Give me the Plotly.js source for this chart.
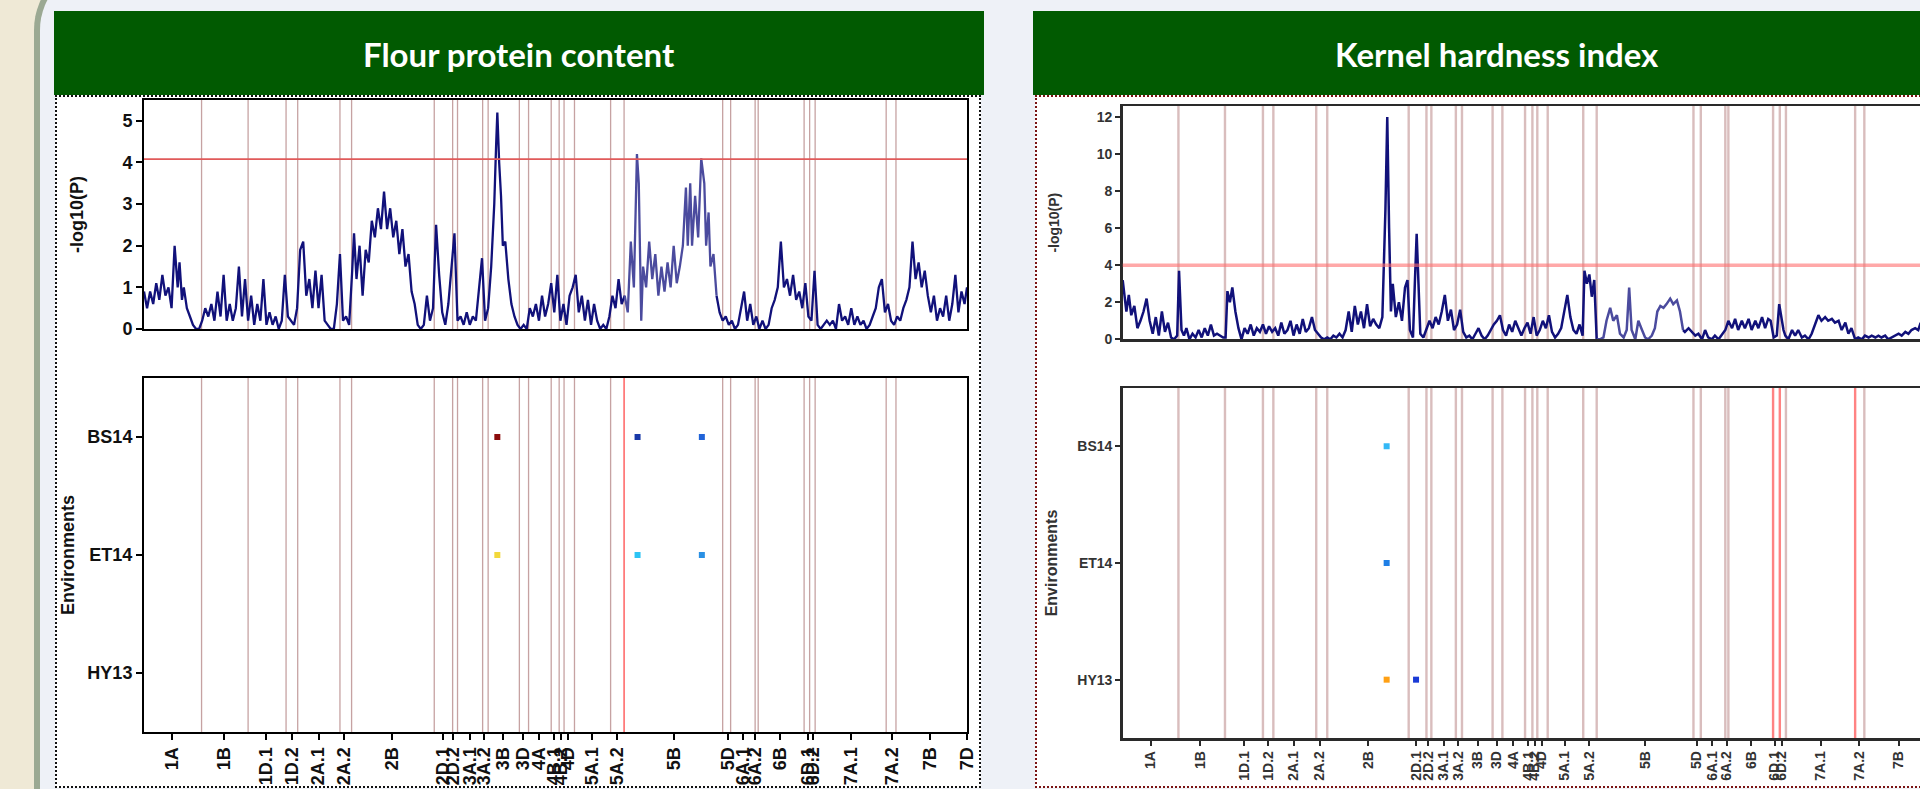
<!DOCTYPE html>
<html>
<head>
<meta charset="utf-8">
<script src="https://cdn.plot.ly/plotly-3.0.1.min.js"></script>
<style>
html,body{margin:0;padding:0;width:1920px;height:789px;overflow:hidden;background:#eef1f7;}
.abs{position:absolute;}
#beige{left:0;top:0;width:42px;height:789px;background:#efe9d6;}
#frame{left:34px;top:-40px;width:2000px;height:900px;border-left:6px solid #9ba993;border-top:6px solid #9ba993;border-top-left-radius:70px;background:#eef1f7;}
.head{top:11px;width:930px;height:84px;background:#015a01;}
#lh{left:54px;}
#rh{left:1033px;}
.body{top:95px;height:689px;width:922px;background:#ffffff;}
#lb{left:55px;border:2px dotted #111111;}
#rb{left:1035px;border:2px dotted #7a1414;}
#chart{left:0;top:0;width:2000px;height:789px;z-index:5;}
</style>
</head>
<body>
<div id="beige" class="abs"></div>
<div id="frame" class="abs"></div>
<div id="lh" class="abs head"></div>
<div id="rh" class="abs head"></div>
<div id="lb" class="abs body"></div>
<div id="rb" class="abs body"></div>
<div id="chart" class="abs"></div>
<script>
// ---------------- DATA ----------------
const panelTitles = ["Flour protein content", "Kernel hardness index"];
const environments = ["BS14", "ET14", "HY13"];

// Flour protein content: marker position index (cumulative genome order) and -log10(P)
const fpcPos = [0,5,10,15,20,25,30,35,40,45,50,55,58,62,65,70,75,80,85,90,95,100,105,110,115,120,125,130,135,140,145,150,155,160,165,170,175,180,185,190,195,200,205,210,215,220,225,230,235,240,245,250,255,260,265,270,275,280,285,290,295,300,305,310,315,320,325,330,335,340,343,347,352,357,362,367,372,377,382,387,392,397,402,407,412,417,422,427,432,437,442,447,452,457,462,467,472,477,482,487,492,497,502,507,512,517,522,527,532,537,542,547,552,557,562,567,572,575,577,580,583,586,590,595,600,605,610,615,620,625,630,635,640,645,650,655,660,665,670,675,680,685,690,695,700,705,710,715,720,725,730,735,740,745,750,755,760,765,770,775,780,785,790,795,800,805,808,812,815,820,825,830,835,840,845,850,855,860,865,870,875,880,885,888,892,895,900,905,910,915,918,922,925,930,935,940,945,950,955,960,965,970,975,980,985,990,995,1000,1005,1010,1015,1020,1025,1030,1035,1040,1045,1050,1055,1060,1065,1070,1075,1080,1085,1090,1095,1100,1105,1110,1115,1120,1125,1130,1135,1140,1145,1150,1155,1160,1165,1170,1175,1180,1185,1190,1195,1200,1205,1210,1215,1220,1225,1230,1235,1240,1245,1250,1255,1260,1265,1270,1275,1280,1285,1290,1295,1300,1305,1310,1315,1320,1325,1330,1335,1340,1344];
const fpcLogP = [0.9,0.5,0.9,0.6,1.1,0.7,1.3,0.8,1.0,0.5,2.0,1.0,1.6,0.7,1.0,0.5,0.3,0.1,0.0,0.0,0.2,0.5,0.3,0.6,0.2,0.9,0.3,1.3,0.2,0.6,0.2,0.5,1.5,0.3,1.2,0.2,0.8,0.1,0.6,0.2,1.2,0.1,0.4,0.1,0.3,0.0,0.2,1.3,0.3,0.2,0.1,0.5,1.9,2.1,0.8,1.2,0.5,1.4,0.5,1.3,0.2,0.1,0.0,0.0,0.6,1.8,0.2,0.3,0.1,1.4,2.3,1.2,2.0,0.8,1.9,1.6,2.6,2.2,2.9,2.4,3.3,2.4,2.9,2.2,2.6,1.8,2.4,1.5,1.8,0.9,0.6,0.1,0.0,0.1,0.8,0.2,0.5,2.5,1.3,0.4,0.1,0.6,1.5,2.3,0.2,0.3,0.1,0.4,0.1,0.3,0.2,1.0,1.7,0.2,0.5,1.5,3.0,4.4,5.2,4.0,3.2,2.0,2.1,1.2,0.6,0.3,0.1,0.0,0.1,0.0,0.5,0.3,0.6,0.2,0.8,0.3,0.6,1.1,0.4,1.3,0.2,0.6,0.1,0.8,1.0,1.3,0.4,0.8,0.2,0.7,0.1,0.6,0.2,0.0,0.1,0.0,0.3,0.8,0.5,1.2,0.6,0.8,0.4,2.1,1.0,4.2,3.5,0.2,1.5,1.0,2.1,1.2,1.8,0.8,1.5,0.9,1.6,1.0,2.0,1.1,1.5,2.0,3.4,2.0,3.5,2.0,3.2,2.2,4.1,3.5,2.0,2.8,1.5,1.8,0.8,0.4,0.2,0.3,0.1,0.2,0.0,0.1,0.5,0.9,0.2,0.6,0.1,0.3,0.0,0.2,0.0,0.1,0.5,0.7,1.0,2.1,1.0,1.2,0.8,1.3,0.7,0.9,0.5,1.1,0.3,0.2,1.4,0.1,0.0,0.1,0.2,0.1,0.2,0.0,0.6,0.2,0.3,0.1,0.5,0.1,0.3,0.1,0.2,0.0,0.1,0.3,0.5,1.0,1.2,0.4,0.6,0.2,0.1,0.3,0.2,0.5,0.7,1.0,2.1,1.2,1.6,1.0,1.4,0.8,0.4,0.8,0.2,0.5,0.3,0.8,0.2,0.6,1.3,0.4,0.9,0.6,1.0];

// Kernel hardness index
const khiPos = [0,2,6,10,14,19,24,29,34,39,44,49,54,59,64,69,74,79,84,89,92,96,100,104,109,114,119,124,129,134,139,144,149,154,159,164,168,171,175,179,184,189,194,199,204,209,214,219,224,229,234,239,244,249,254,259,264,269,274,279,284,289,294,299,304,309,314,319,324,329,334,339,344,349,354,359,364,369,374,379,384,389,394,399,404,409,414,419,424,429,432,435,438,441,446,451,456,461,465,469,474,477,480,483,486,491,496,501,506,511,516,521,526,531,536,541,546,551,556,561,566,571,576,581,586,591,596,601,606,611,616,621,626,631,636,641,646,651,656,661,666,671,676,681,686,691,696,701,706,711,716,721,726,731,736,741,746,751,754,758,762,766,770,774,779.5,785,790,796,801,807,812,818,823,827,831,837,842,848,853,858,864,869,873,878,883,888,894,899,905,910,915,918,924,929,935,940,946,951,956,962,967,973,978,984,989,995,1000,1005,1011,1016,1022,1027,1033,1038,1044,1049,1054,1058,1063,1068,1072,1076,1079,1082,1087,1093,1098,1103,1109,1114,1120,1125,1131,1136,1141,1147,1152,1158,1163,1169,1174,1180,1185,1190,1196,1201,1207,1212,1218,1223,1229,1234,1239,1245,1250,1256,1261,1267,1272,1278,1283,1288,1294,1299,1302,1308,1315,1322];
const khiLogP = [3.2,2.5,1.5,2.4,1.3,1.8,0.6,1.0,1.5,2.2,1.0,0.3,1.2,0.2,1.5,0.4,0.9,0.1,0.0,0.2,3.7,0.5,0.2,0.6,0.0,0.3,0.1,0.5,0.1,0.6,0.2,0.8,0.2,0.3,0.2,0.1,0.1,2.6,2.0,2.8,1.5,0.6,0.0,0.6,0.3,0.8,0.2,0.6,0.4,0.8,0.3,0.7,0.4,0.6,0.2,0.9,0.3,0.5,1.0,0.2,0.8,0.3,1.1,0.4,0.6,1.2,0.5,0.3,0.1,0.0,0.1,0.0,0.2,0.1,0.3,0.1,0.5,1.5,0.4,1.8,0.8,1.5,0.6,1.9,0.7,1.1,0.8,0.6,1.2,7.0,12.0,6.0,1.5,3.0,1.2,2.0,1.0,2.8,3.2,0.5,0.1,3.0,5.7,3.0,0.3,0.1,0.6,1.0,0.6,1.2,0.8,1.5,2.4,1.0,1.6,0.5,0.8,1.6,0.4,0.1,0.2,0.0,0.3,0.6,0.2,0.0,0.2,0.5,0.8,1.0,1.3,0.5,0.2,0.8,0.4,1.0,0.6,0.2,0.6,0.9,0.3,1.2,0.2,0.5,1.0,0.6,1.3,0.4,0.1,0.3,0.6,1.5,2.4,1.2,0.5,0.3,0.8,0.2,3.7,3.0,3.5,2.3,3.2,0.0,0.0,0.1,1.0,1.7,1.0,1.3,0.3,0.1,0.5,2.8,0.5,0.0,1.0,0.5,0.1,0.0,0.2,0.6,1.5,1.8,1.7,1.9,2.2,1.9,2.1,1.5,0.5,0.4,0.6,0.4,0.2,0.3,0.0,0.5,0.1,0.0,0.2,0.0,0.2,0.5,1.0,0.6,1.1,0.5,1.0,0.6,1.1,0.5,1.0,0.6,1.2,0.6,1.1,1.0,0.1,0.2,1.9,1.2,0.5,0.2,0.0,0.5,0.2,0.5,0.1,0.2,0.0,0.3,0.8,1.3,1.0,1.2,1.0,1.1,0.9,1.0,0.5,0.9,0.3,0.6,0.0,0.1,0.0,0.2,0.1,0.2,0.1,0.2,0.1,0.2,0.0,0.1,0.2,0.3,0.2,0.4,0.3,0.5,0.6,0.5,0.8,0.6,0.9,0.5];

// chromosome tick labels and their positions in each map
const chromLabels = ["1A","1B","1D.1","1D.2","2A.1","2A.2","2B","2D.1","2D.2","3A.1","3A.2","3B","3D","4A","4B.1","4B.2","4D","5A.1","5A.2","5B","5D","6A.1","6A.2","6B","6D.1","6D.2","7A.1","7A.2","7B","7D"];
const fpcChromPos = [46,131,200,242,285,327,405,489,505,532,556,587,619,645,670,681,692,732,772,866,954,978,998,1039,1085,1093,1155,1221,1284,1343.6];
const khiChromPos = [46,127,198,238,279,322,401,479,499,524,548,580,611,638,662,673,684,722,762,853,937,963,986,1026,1065,1076,1140,1203,1267,1345];
const fpcMapEnd = 1344;
const khiMapEnd = 1346;

// separator lines in each map, and those highlighted in the environment panel
const fpcSeparators = [94,170,232,251,320,339,474,504,512,553,562,613,628,665,678,686,703,762,784,945,958,998,1003,1078,1087,1096,1212,1228];
const fpcHighlighted = [784];
const khiSeparators = [91,167,229,246,316,334,467,496,504,544,554,604,620,657,669,677,694,752,774,932,944,984,989,1062,1073,1083,1196,1211];
const khiHighlighted = [1062,1073,1196];

// significance thresholds
const fpcThreshold = 4.08;
const khiThreshold = 4.0;

// significant hits per environment
const fpcHitPos = [577,806,911,577,806,911];
const fpcHitEnv = ["BS14","BS14","BS14","ET14","ET14","ET14"];
const khiHitPos = [431,431,431,479];
const khiHitEnv = ["BS14","ET14","HY13","HY13"];

// ---------------- STYLE ----------------
const fpcHitColors = ["#8b0b0b","#1838a8","#2063d8","#f2d83a","#2cc4f4","#2a90e4"];
const khiHitColors = ["#33b8f6","#1e7fe6","#ffa014","#1a3ad6"];
const fpcLightRange = [785, 935];
const khiLightRange = [774, 915];
const navy = "#11117a", lilac = "#4b4b9e";
const FONT = "Liberation Sans, Arial, Helvetica, sans-serif";

const W = 2000, H = 789;
const dx = (a,b) => [a/W, b/W];
const dy = (t,b) => [1-b/H, 1-t/H];

function seg(xs, ys, lo, hi){
  const x=[], y=[];
  xs.forEach((v,i)=>{ if(v>=lo && v<=hi){ x.push(v); y.push(ys[i]); } });
  return {x, y};
}
function curveTraces(xs, ys, light, xa, ya, lw){
  const parts = [
    [seg(xs,ys,-Infinity,light[0]), navy],
    [seg(xs,ys,light[0],light[1]), lilac],
    [seg(xs,ys,light[1],Infinity), navy]
  ];
  return parts.map(([d,c]) => ({type:"scatter", mode:"lines", x:d.x, y:d.y, xaxis:xa, yaxis:ya,
    line:{color:c, width:lw}, hoverinfo:"skip", showlegend:false}));
}

const traces = [
  ...curveTraces(fpcPos, fpcLogP, fpcLightRange, "x", "y", 2.3),
  {type:"scatter", mode:"markers", x:fpcHitPos, y:fpcHitEnv, xaxis:"x2", yaxis:"y2",
   marker:{symbol:"square", size:6, color:fpcHitColors, line:{width:0}}, showlegend:false},
  ...curveTraces(khiPos, khiLogP, khiLightRange, "x3", "y3", 2.5),
  {type:"scatter", mode:"markers", x:khiHitPos, y:khiHitEnv, xaxis:"x4", yaxis:"y4",
   marker:{symbol:"square", size:6, color:khiHitColors, line:{width:0}}, showlegend:false}
];

const shapes = [];
function seps(list, hi, xa, ya, col, hiCol, w, useHi){
  list.forEach(p => shapes.push({type:"line", layer:"below", xref:xa, yref:ya+" domain", x0:p, x1:p, y0:0, y1:1,
    line:{color:(useHi && hi.includes(p)) ? hiCol : col, width:w}}));
}
seps(fpcSeparators, fpcHighlighted, "x", "y", "rgba(160,100,100,0.6)", "#ff4a4a", 1.3, false);
seps(fpcSeparators, fpcHighlighted, "x2", "y2", "rgba(160,100,100,0.6)", "#ff4a4a", 1.3, true);
seps(khiSeparators, khiHighlighted, "x3", "y3", "rgba(185,135,135,0.55)", "rgba(255,90,90,0.75)", 2.4, false);
seps(khiSeparators, khiHighlighted, "x4", "y4", "rgba(185,135,135,0.55)", "rgba(255,90,90,0.75)", 2.4, true);
shapes.push({type:"line", layer:"above", xref:"x domain", yref:"y", x0:0, x1:1, y0:fpcThreshold, y1:fpcThreshold, line:{color:"#e05a5a", width:1.6}});
shapes.push({type:"line", layer:"above", xref:"x3 domain", yref:"y3", x0:0, x1:1, y0:khiThreshold, y1:khiThreshold, line:{color:"rgba(255,110,110,0.6)", width:3.5}});

function baseAxis(lineColor, lw){
  return {showgrid:false, zeroline:false, showline:true, mirror:true, linecolor:lineColor, linewidth:lw,
          automargin:false, fixedrange:true};
}
const LC = "#000000", RC = "#2a2a2a";
const layout = {
  width:W, height:H, margin:{l:0,r:0,t:0,b:0}, showlegend:false,
  paper_bgcolor:"rgba(0,0,0,0)", plot_bgcolor:"#ffffff",
  xaxis: Object.assign(baseAxis(LC,2), {domain:dx(144,967), range:[0,fpcMapEnd], showticklabels:false, ticks:"", anchor:"y"}),
  yaxis: Object.assign(baseAxis(LC,2), {domain:dy(100,329), range:[0,5.5], tickvals:[0,1,2,3,4,5], ticks:"outside", ticklen:6, tickwidth:2, tickcolor:LC,
          tickfont:{family:FONT, size:18, color:"#111", weight:"bold"}, anchor:"x",
          title:{text:"-log10(P)", font:{family:FONT, size:18, color:"#111", weight:"bold"}, standoff:34}}),
  xaxis2: Object.assign(baseAxis(LC,2), {domain:dx(144,967), range:[0,fpcMapEnd], tickvals:fpcChromPos, ticktext:chromLabels, tickangle:-90,
          ticks:"outside", ticklen:6, tickwidth:2, tickcolor:LC, tickfont:{family:FONT, size:18, color:"#111", weight:"bold"}, anchor:"y2"}),
  yaxis2: Object.assign(baseAxis(LC,2), {domain:dy(378,732), type:"category", categoryorder:"array", categoryarray:environments.slice().reverse(),
          range:[-0.5,2.5], ticks:"outside", ticklen:6, tickwidth:2, tickcolor:LC, tickfont:{family:FONT, size:18, color:"#111", weight:"bold"}, anchor:"x2",
          title:{text:"Environments", font:{family:FONT, size:18, color:"#111", weight:"bold"}, standoff:8}}),
  xaxis3: Object.assign(baseAxis(RC,2.5), {domain:dx(1122.7,1947), range:[0,khiMapEnd], showticklabels:false, ticks:"", anchor:"y3"}),
  yaxis3: Object.assign(baseAxis(RC,2.5), {domain:dy(106,339.3), range:[0,12.6], tickvals:[0,2,4,6,8,10,12], ticks:"outside", ticklen:5, tickwidth:2, tickcolor:RC,
          tickfont:{family:FONT, size:14, color:"#333", weight:"bold"}, anchor:"x3",
          title:{text:"-log10(P)", font:{family:FONT, size:14, color:"#333", weight:"bold"}, standoff:34}}),
  xaxis4: Object.assign(baseAxis(RC,2.5), {domain:dx(1122.7,1947), range:[0,khiMapEnd], tickvals:khiChromPos, ticktext:chromLabels, tickangle:-90,
          ticks:"outside", ticklen:5, tickwidth:2, tickcolor:RC, tickfont:{family:FONT, size:14, color:"#333", weight:"bold"}, anchor:"y4"}),
  yaxis4: Object.assign(baseAxis(RC,2.5), {domain:dy(388,738), type:"category", categoryorder:"array", categoryarray:environments.slice().reverse(),
          range:[-0.5,2.5], ticks:"outside", ticklen:5, tickwidth:2, tickcolor:RC, tickfont:{family:FONT, size:14, color:"#333", weight:"bold"}, anchor:"x4",
          title:{text:"Environments", font:{family:FONT, size:16, color:"#333", weight:"bold"}, standoff:16}}),
  shapes: shapes,
  annotations: [
    {text:panelTitles[0], xref:"paper", yref:"paper", x:518.5/W, y:1-54/H, xanchor:"center", yanchor:"middle", showarrow:false,
     font:{family:"Lato, Open Sans, sans-serif", size:33, color:"#ffffff", weight:"bold"}},
    {text:panelTitles[1], xref:"paper", yref:"paper", x:1497/W, y:1-54/H, xanchor:"center", yanchor:"middle", showarrow:false,
     font:{family:"Lato, Open Sans, sans-serif", size:33, color:"#ffffff", weight:"bold"}}
  ]
};
Plotly.newPlot("chart", traces, layout, {staticPlot:true, displayModeBar:false});
</script>
</body>
</html>
